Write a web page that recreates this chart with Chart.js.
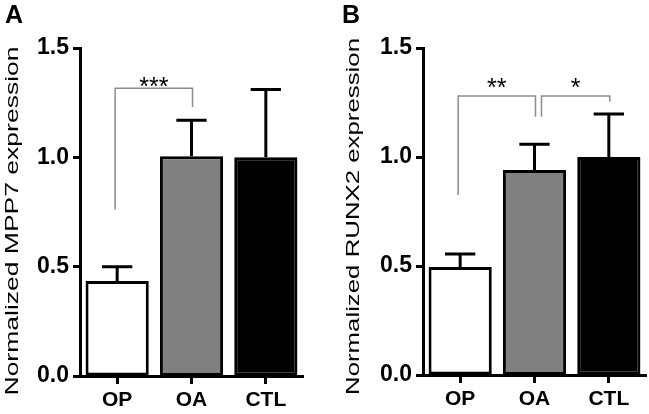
<!DOCTYPE html>
<html>
<head>
<meta charset="utf-8">
<script src="https://cdn.jsdelivr.net/npm/chart.js@4.4.1/dist/chart.umd.min.js"></script>
<style>
    html, body { margin: 0; padding: 0; background: #fff; }
    #wrap { position: relative; width: 649px; height: 414px; overflow: hidden; }
    .panel { position: absolute; top: 0; height: 414px; }
    #panelA { left: 0; width: 325px; }
    #panelB { left: 325px; width: 324px; }
</style>
</head>
<body>
<div id="wrap">
    <div class="panel" id="panelA"><canvas id="chartA" width="325" height="414"></canvas></div>
    <div class="panel" id="panelB"><canvas id="chartB" width="324" height="414"></canvas></div>
</div>
<script>
// --- Data ---
const categories = ['OP', 'OA', 'CTL'];
const barColors = ['#ffffff', '#808080', '#000000'];

// Panel A: MPP7
const mppMeans = [0.435, 1.005, 1.0];
const mppErrors = [0.065, 0.165, 0.31];
const mppBrackets = [
    { from: 0, to: 1, y: 1.316, left: 0.76, right: 1.23, label: '***', labelY: 1.35 }
];

// Panel B: RUNX2
const runxMeans = [0.495, 0.94, 1.0];
const runxErrors = [0.06, 0.118, 0.197];
const runxBrackets = [
    { from: 0, to: 1, y: 1.28, left: 0.826, right: 1.185, label: '**', labelY: 1.345 },
    { from: 1, to: 2, y: 1.28, left: 1.185, right: 1.254, label: '*', labelY: 1.345 }
];

const FONT = "Arial, 'Liberation Sans', sans-serif";

// Draws error bars, significance brackets, the stretched y title and the panel letter
function extrasPlugin(cfg) {
    return {
        id: 'extras',
        afterDatasetsDraw(chart) {
            const ctx = chart.ctx;
            const xs = chart.scales.x;
            const ys = chart.scales.y;
            const bars = chart.getDatasetMeta(0).data;

            // error bars (upper only)
            ctx.save();
            ctx.strokeStyle = '#000';
            ctx.lineWidth = 3;
            bars.forEach((bar, i) => {
                const top = ys.getPixelForValue(cfg.means[i] + cfg.errors[i]);
                const half = bar.width * 0.24;
                ctx.beginPath();
                ctx.moveTo(bar.x, bar.y);
                ctx.lineTo(bar.x, top);
                ctx.moveTo(bar.x - half, top);
                ctx.lineTo(bar.x + half, top);
                ctx.stroke();
            });
            ctx.restore();

            // significance brackets
            ctx.save();
            ctx.strokeStyle = '#8c8c8c';
            ctx.lineWidth = 1.5;
            ctx.fillStyle = '#000';
            ctx.font = '25px ' + FONT;
            ctx.textAlign = 'center';
            ctx.textBaseline = 'alphabetic';
            cfg.brackets.forEach(b => {
                const shared = cfg.brackets.some(o => o !== b && o.to === b.from);
                const x1 = xs.getPixelForValue(b.from) + (shared ? 7 : -2);
                const x2 = xs.getPixelForValue(b.to) + 1;
                const y = ys.getPixelForValue(b.y);
                ctx.beginPath();
                ctx.moveTo(x1, ys.getPixelForValue(b.left));
                ctx.lineTo(x1, y);
                ctx.lineTo(x2, y);
                ctx.lineTo(x2, ys.getPixelForValue(b.right));
                ctx.stroke();
                ctx.fillText(b.label, (x1 + x2) / 2, ys.getPixelForValue(b.labelY) + 25 * 0.575);
            });
            ctx.restore();
        },
        afterDraw(chart) {
            const ctx = chart.ctx;
            // y axis title, stretched along its length like the original
            ctx.save();
            ctx.fillStyle = '#000';
            ctx.font = '19px ' + FONT;
            const w = ctx.measureText(cfg.title).width;
            ctx.translate(cfg.titleX, cfg.titleY);
            ctx.rotate(-Math.PI / 2);
            ctx.scale(cfg.titleLen / w, 1);
            ctx.textAlign = 'center';
            ctx.textBaseline = 'alphabetic';
            ctx.fillText(cfg.title, 0, 0);
            ctx.restore();

            // panel letter
            ctx.save();
            ctx.fillStyle = '#000';
            ctx.font = 'bold 25px ' + FONT;
            ctx.textAlign = 'left';
            ctx.textBaseline = 'alphabetic';
            ctx.fillText(cfg.letter, cfg.letterX, 23);
            ctx.restore();
        }
    };
}

function makePanel(canvasId, cfg) {
    const ctx = document.getElementById(canvasId).getContext('2d');
    return new Chart(ctx, {
        type: 'bar',
        data: {
            labels: categories,
            datasets: [{
                data: cfg.means,
                backgroundColor: barColors,
                borderColor: '#000',
                borderWidth: 3,
                borderSkipped: false,
                barPercentage: 0.85,
                categoryPercentage: 1.0
            }]
        },
        options: {
            responsive: false,
            animation: false,
            layout: { padding: { left: 0, right: cfg.padRight, top: 48, bottom: cfg.padBottom } },
            plugins: { legend: { display: false }, tooltip: { enabled: false } },
            scales: {
                x: {
                    border: { display: true, width: 3, color: '#000' },
                    grid: { drawOnChartArea: false, offset: false, tickLength: 8, tickWidth: 3, tickColor: '#000' },
                    ticks: { color: '#000', font: { family: FONT, size: 21, weight: 'bold' }, padding: 4, maxRotation: 0 },
                    afterFit: s => { s.height = 38; }
                },
                y: {
                    min: 0,
                    max: 1.5,
                    border: { display: true, width: 3, color: '#000' },
                    grid: { drawOnChartArea: false, tickLength: 7, tickWidth: 3, tickColor: '#000' },
                    ticks: {
                        stepSize: 0.5,
                        color: '#000',
                        font: { family: FONT, size: 23, weight: 'bold' },
                        padding: 4,
                        callback: v => v.toFixed(1)
                    },
                    afterFit: s => { s.width = cfg.axisWidth; }
                }
            }
        },
        plugins: [extrasPlugin(cfg)]
    });
}

makePanel('chartA', {
    means: mppMeans, errors: mppErrors, brackets: mppBrackets,
    title: 'Normalized MPP7 expression', titleX: 17.5, titleY: 221, titleLen: 349,
    letter: 'A', letterX: 5, axisWidth: 80, padRight: 22, padBottom: 0
});

makePanel('chartB', {
    means: runxMeans, errors: runxErrors, brackets: runxBrackets,
    title: 'Normalized RUNX2 expression', titleX: 33.5, titleY: 216.5, titleLen: 357,
    letter: 'B', letterX: 17, axisWidth: 98, padRight: 3, padBottom: 1
});
</script>
</body>
</html>
